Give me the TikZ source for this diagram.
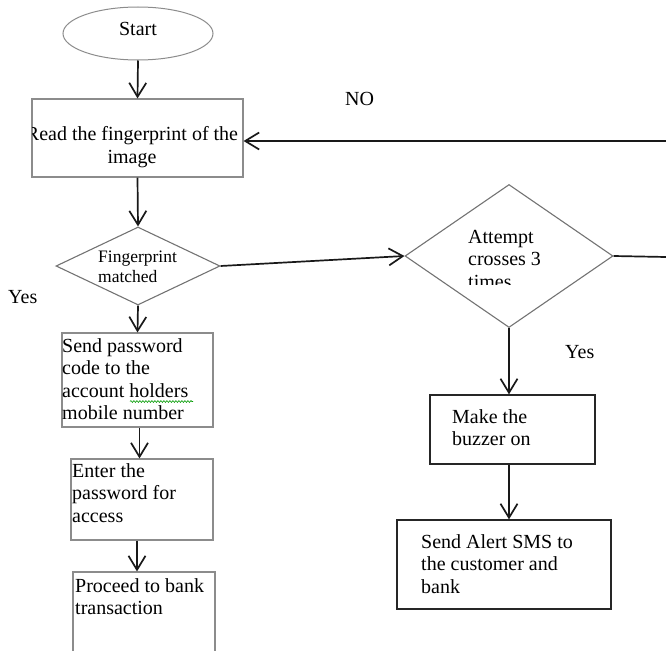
\documentclass[tikz,border=0pt]{standalone}
\usepackage{fontspec}
\setmainfont{Liberation Serif}
\usetikzlibrary{arrows.meta,shapes.geometric,decorations.pathmorphing}
\begin{document}
\begin{tikzpicture}[x=1pt,y=-1pt,
  txt/.style={inner sep=0pt, anchor=north west, align=left, font=\fontsize{20}{22.4}\selectfont},
  lab/.style={inner sep=0pt, anchor=base west, font=\fontsize{20}{22.4}\selectfont},
  boxg/.style={draw=black!45, line width=1.1pt, inner sep=0pt},
  boxk/.style={draw=black!85, line width=1.3pt, inner sep=0pt},
  dia/.style={diamond, draw=black!55, line width=1.1pt, inner sep=0pt},
  arr/.style={draw=black!90, line width=1.7pt, -{Straight Barb[length=14pt,width=17pt,line width=1.7pt]}},
  ln/.style={draw=black!90, line width=1.7pt}]
\useasboundingbox (0,0) rectangle (666,650);
% shapes
\node[ellipse, draw=black!45, line width=1pt, minimum width=150pt, minimum height=53pt, inner sep=0pt] (start) at (138,33.5) {};
\node[boxg, minimum width=211pt, minimum height=78pt] (read) at (137.5,138) {};
\node[dia, minimum width=164pt, minimum height=78pt] (d1) at (138,266) {};
\node[boxg, minimum width=151pt, minimum height=94pt] (send) at (137.5,380) {};
\node[boxg, minimum width=142pt, minimum height=81pt] (enter) at (142,499.5) {};
\node[boxg, minimum width=142pt, minimum height=100pt] (proc) at (144,622) {};
\node[dia, minimum width=208pt, minimum height=143pt] (d2) at (509,256) {};
\node[boxk, minimum width=165pt, minimum height=69pt] (buzz) at (512.5,429.5) {};
\node[boxk, minimum width=214pt, minimum height=89pt] (alert) at (504,564.5) {};
% texts
\node[inner sep=0pt, anchor=base, font=\fontsize{20}{22.4}\selectfont] (startT) at (138,36) {Start};
\begin{scope}
  \clip (32.5,100) rectangle (243,176);
  \node[txt, anchor=north, align=center] (readT) at (132,126.5) {Read the fingerprint of the\\image};
\end{scope}
\node[txt, font=\fontsize{17.5}{20}\selectfont] (d1T) at (98,251) {Fingerprint\\matched};
\begin{scope}
  \clip (455,215) rectangle (565,284.5);
  \node[txt] (d2T) at (468,229.8) {Attempt\\crosses 3\\times};
\end{scope}
\node[txt] (sendT) at (62,338.5) {Send password\\code to the\\account holders\\mobile number};
\draw[green!60!black, line width=0.6pt, decorate, decoration={snake, amplitude=0.9pt, segment length=3pt}] (130,401.5) -- (193,401.5);
\node[txt] (enterT) at (72,463.5) {Enter the\\password for\\access};
\node[txt] (procT) at (75,578.5) {Proceed to bank\\transaction};
\node[txt] (buzzT) at (452,409.5) {Make the\\buzzer on};
\node[txt] (alertT) at (421,534.5) {Send Alert SMS to\\the customer and\\bank};
\node[lab] (no) at (345,106) {NO};
\node[lab] (yes1) at (8,303) {Yes};
\node[lab] (yes2) at (565,358) {Yes};
% connectors
\coordinate (r1) at (666,257);
\coordinate (r2) at (666,141);
\draw[arr] (start.south) -- (read.north);
\draw[arr] (read.south) -- (d1.north);
\draw[arr] (d1.south) -- (send.north);
\draw[arr] ([xshift=2pt]send.south) -- ([xshift=2pt]send.south |- enter.north);
\draw[arr] ([xshift=-5pt]enter.south) -- ([xshift=-5pt]enter.south |- proc.north);
\draw[arr] (d1.east) -- (d2.west);
\draw[ln] (d2.east) -- (r1);
\draw[arr] (r2) -- (r2 -| read.east);
\draw[arr] (d2.south) -- (d2.south |- buzz.north);
\draw[arr] (buzz.south -| d2.south) -- (alert.north -| d2.south);
\end{tikzpicture}
\end{document}
